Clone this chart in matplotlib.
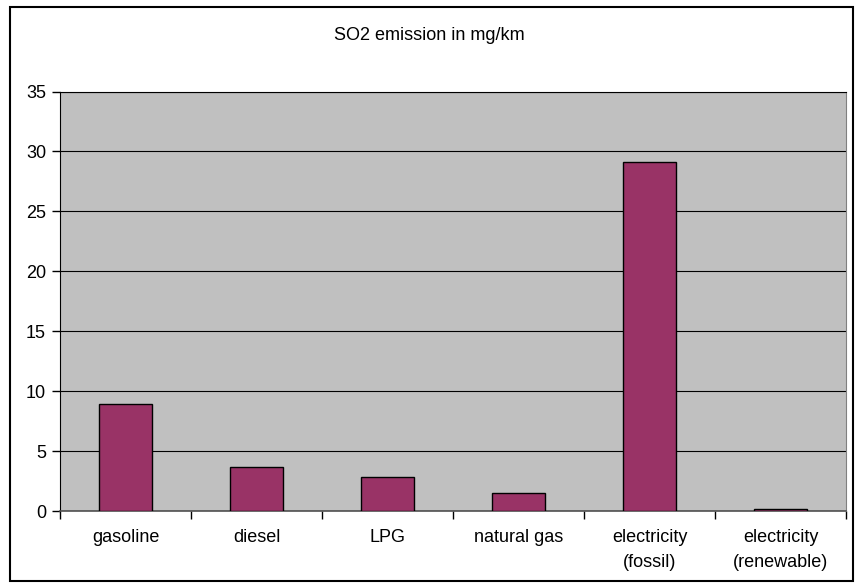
import matplotlib
matplotlib.use("Agg")
import matplotlib.pyplot as plt
from matplotlib.patches import Rectangle

categories = ["gasoline", "diesel", "LPG", "natural gas", "electricity\n(fossil)", "electricity\n(renewable)"]
values = [8.9, 3.7, 2.8, 1.5, 29.1, 0.15]
yticks = [0, 5, 10, 15, 20, 25, 30, 35]
title = "SO2 emission in mg/km"

plt.rcParams['font.family'] = ['Liberation Sans', 'DejaVu Sans']

fig = plt.figure(figsize=(8.58, 5.87), dpi=100)
fig.patch.set_facecolor('white')
# outer chart border
fig.add_artist(Rectangle((9.5/858, 6/587), (853-9.5)/858, (580-6)/587, transform=fig.transFigure,
                         fill=False, edgecolor='black', linewidth=1.5))

ax = fig.add_axes([60/858, (587-511)/587, (846-60)/858, (511-91.5)/587])
ax.set_facecolor('#C0C0C0')

x = list(range(len(categories)))
ax.bar(x, values, width=0.4, color='#993366', edgecolor='black', linewidth=1.0, zorder=3)

ax.set_xlim(-0.5, len(categories) - 0.5)
ax.set_ylim(0, 35)
ax.set_yticks(yticks)
ax.set_yticklabels([str(v) for v in yticks], fontsize=13)
ax.yaxis.grid(True, color='black', linewidth=0.8, zorder=1)
ax.set_axisbelow(True)

ax.set_xticks(x)
ax.set_xticklabels(categories, fontsize=13, linespacing=1.6)
ax.tick_params(axis='x', length=0, pad=13)
# category boundary ticks
ax.set_xticks([i - 0.5 for i in range(len(categories) + 1)], minor=True)
ax.tick_params(axis='x', which='minor', length=6, width=1, color='black', direction='out')
ax.tick_params(axis='y', length=6, width=1, direction='out', pad=4)

ax.spines['left'].set_color('black')
ax.spines['top'].set_color('black')
ax.spines['top'].set_linewidth(0.8)
ax.spines['right'].set_color('#808080')
ax.spines['bottom'].set_color('#505050')
ax.spines['bottom'].set_linewidth(1.2)

fig.text(0.5, 1 - 35/587, title, ha='center', va='center', fontsize=13)

fig.savefig('out.png', dpi=100)
